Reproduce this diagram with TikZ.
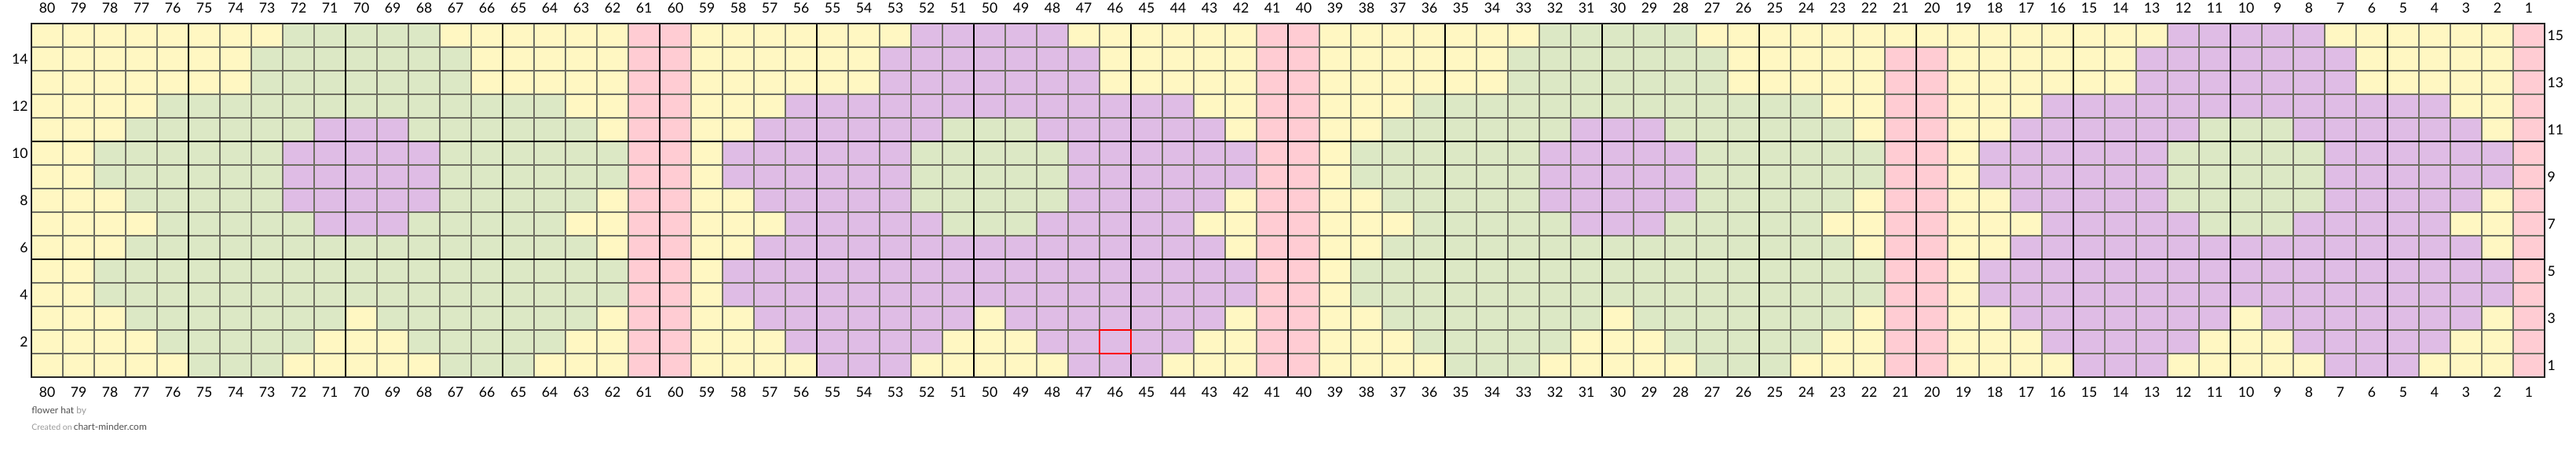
\documentclass[tikz,border=0pt]{standalone}
\usepackage{fontspec}
\setmainfont{Lato}
\definecolor{bgyellow}{HTML}{FFF7C2}
\definecolor{leafgreen}{HTML}{DCE8C5}
\definecolor{petalpurple}{HTML}{DFBCE5}
\definecolor{stripepink}{HTML}{FFCCD3}
\definecolor{gridgray}{HTML}{6E6E62}
\definecolor{footdark}{HTML}{505050}
\definecolor{footlight}{HTML}{9A9A9A}

\begin{document}
\begin{tikzpicture}[x=20pt,y=15pt,
  num/.style={font=\fontsize{8.8}{10}\selectfont,inner sep=0pt},
  thingrid/.style={gridgray,line width=0.55pt},
  boldgrid/.style={black,line width=1pt},
  chartframe/.style={black!85,line width=1.4pt}]
\useasboundingbox (0,-3.1) rectangle (82,16);
\fill[bgyellow] (1,0) rectangle (81,15);
% flowers: centre column / petal colour / centre colour
\foreach \cc/\fl/\ct in {10/petalpurple/leafgreen,30/leafgreen/petalpurple,50/petalpurple/leafgreen,70/leafgreen/petalpurple}{
  \foreach \r/\lo/\hi in {15/-2/2,14/-3/3,13/-3/3,12/-6/6,11/-7/7,10/-8/8,9/-8/8,8/-7/7,7/-6/6,6/-7/7,5/-8/8,4/-8/8,3/-7/7,2/-6/6,1/-5/-3,1/3/5}
    \fill[\fl] ({81-\cc-(\hi)},{\r-1}) rectangle ({82-\cc-(\lo)},\r);
  \foreach \r/\lo/\hi in {3/0/0,2/-1/1}
    \fill[bgyellow] ({81-\cc-(\hi)},{\r-1}) rectangle ({82-\cc-(\lo)},\r);
  \foreach \r/\lo/\hi in {11/-1/1,10/-2/2,9/-2/2,8/-2/2,7/-1/1}
    \fill[\ct] ({81-\cc-(\hi)},{\r-1}) rectangle ({82-\cc-(\lo)},\r);
}
% pink stripes
\foreach \c in {1,40,41,60,61}
  \fill[stripepink] ({81-\c},0) rectangle ({82-\c},15);
\foreach \c in {20,21}
  \fill[stripepink] ({81-\c},0) rectangle ({82-\c},14);
% grid
\foreach \x in {1,...,81}
  \draw[thingrid] (\x,0) -- (\x,15);
\foreach \y in {0,...,15}
  \draw[thingrid] (1,\y) -- (81,\y);
\foreach \x in {6,11,...,76}
  \draw[boldgrid] (\x,0) -- (\x,15);
\foreach \y in {5,10}
  \draw[boldgrid] (1,\y) -- (81,\y);
\draw[chartframe] (1,0) rectangle (81,15);
\draw[red,line width=1pt] (35,1) rectangle (36,2);
% numbers
\foreach \c in {1,...,80}{
  \node[num] (top\c) at ({81.5-\c},15.67) {\c};
  \node[num] (bot\c) at ({81.5-\c},-0.64) {\c};
}
\foreach \r in {2,4,...,14}
  \node[num,anchor=east] (left\r) at (0.9,{\r-0.5}) {\r};
\foreach \r in {1,3,...,15}
  \node[num,anchor=west] (right\r) at (81.08,{\r-0.5}) {\r};
% footer
\node[anchor=west,inner sep=0pt,font=\fontsize{6}{7}\selectfont] (title) at (1,-1.45)
  {\textcolor{footdark}{flower hat} \textcolor{footlight}{by}};
\node[anchor=west,inner sep=0pt,font=\fontsize{6}{7}\selectfont] (credit) at (1,-2.1)
  {\textcolor{footlight}{\fontsize{5.3}{6}\selectfont Created on}\,\textcolor{footdark}{chart-minder.com}};
\end{tikzpicture}
\end{document}
